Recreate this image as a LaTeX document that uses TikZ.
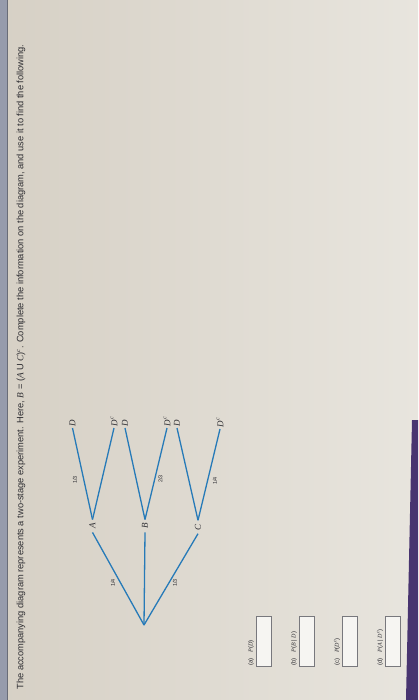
\documentclass[tikz,border=0pt]{standalone}
\usepackage{fontspec}
\setmainfont{Liberation Sans}
\newfontfamily\tms{Liberation Serif}
\usetikzlibrary{calc}
\definecolor{bgL}{RGB}{214,208,197}
\definecolor{bgR}{RGB}{232,229,222}
\definecolor{treeblue}{RGB}{38,122,184}
\definecolor{txt}{RGB}{45,45,50}
\definecolor{boxc}{RGB}{120,120,125}
\definecolor{barc}{RGB}{150,155,172}
\definecolor{purp}{RGB}{72,52,112}
\newcommand{\itl}[1]{{\tms\itshape #1}}
\begin{document}
\begin{tikzpicture}[x=1pt,y=-1pt,
  br/.style={line width=1.3pt, draw=treeblue},
  lbl/.style={inner xsep=0.5pt, inner ysep=1.5pt, text=txt, font=\fontsize{9}{9}\selectfont},
  mid/.style={inner xsep=0.5pt, inner ysep=3.5pt, text=txt, font=\fontsize{9}{9}\selectfont},
  frac/.style={inner sep=0pt, text=txt, font=\fontsize{5.5}{5.5}\selectfont},
  ans/.style={inner sep=0pt, text=txt, font=\fontsize{6}{6}\selectfont, anchor=south},
  abox/.style={draw=boxc, line width=0.5pt, fill=white!60!bgR, minimum width=15pt, minimum height=50pt, inner sep=0pt, anchor=south west}]
\useasboundingbox (0,0) rectangle (418,700);
\shade[left color=bgL, right color=bgR] (0,0) rectangle (418,700);
% window edge on the left
\fill[barc] (0,0) rectangle (7,700);
\draw[line width=1pt, color=barc!70!black] (7.5,0) -- (7.5,700);
% purple strip bottom right
\fill[purp] (412,420) -- (418,420) -- (418,700) -- (406,700) -- cycle;
% header
\node[inner sep=0pt, text=txt] (hdr) at (21,367) {\rotatebox{90}{\resizebox{645pt}{!}{The accompanying diagram represents a two-stage experiment. Here, \itl{B} = (\itl{A} U \itl{C})\textsuperscript{\itl{c}}. Complete the information on the diagram, and use it to find the following.}}};
% tree
\coordinate (root) at (144,625);
\node[mid] (A) at (92.5,526) {\rotatebox{90}{\itl{A}}};
\node[mid] (B) at (145,526) {\rotatebox{90}{\itl{B}}};
\node[mid] (C) at (198,527) {\rotatebox{90}{\itl{C}}};
\node[lbl, anchor=south] (AD) at (72.5,428) {\rotatebox{90}{\itl{D}}};
\node[lbl, anchor=south] (ADc) at (114,428) {\rotatebox{90}{\itl{D}\textsuperscript{\itl{c}}}};
\node[lbl, anchor=south] (BD) at (125,428) {\rotatebox{90}{\itl{D}}};
\node[lbl, anchor=south] (BDc) at (167,428) {\rotatebox{90}{\itl{D}\textsuperscript{\itl{c}}}};
\node[lbl, anchor=south] (CD) at (177,428) {\rotatebox{90}{\itl{D}}};
\node[lbl, anchor=south] (CDc) at (220,429) {\rotatebox{90}{\itl{D}\textsuperscript{\itl{c}}}};
\draw[br] (root) -- (A.south);
\draw[br] (root) -- (B.south);
\draw[br] (root) -- (C.south);
\draw[br] (A.north) -- (AD.south);
\draw[br] (A.north) -- (ADc.south);
\draw[br] (B.north) -- (BD.south);
\draw[br] (B.north) -- (BDc.south);
\draw[br] (C.north) -- (CD.south);
\draw[br] (C.north) -- (CDc.south);
% probabilities
\node[frac] (p1) at (113,583) {\rotatebox{90}{1/4}};
\node[frac] (p2) at (175,583) {\rotatebox{90}{1/3}};
\node[frac] (p3) at (75,480) {\rotatebox{90}{1/3}};
\node[frac] (p4) at (160.5,479) {\rotatebox{90}{2/3}};
\node[frac] (p5) at (215,481) {\rotatebox{90}{1/4}};
% answers
\node[ans] (la) at (251,666) {\rotatebox{90}{(a)\quad \itl{P}(\itl{D})}};
\node[abox] (ba) at (256,666) {};
\node[ans] (lb) at (294,666) {\rotatebox{90}{(b)\quad \itl{P}(\itl{B} | \itl{D})}};
\node[abox] (bb) at (299,666) {};
\node[ans] (lc) at (337,666) {\rotatebox{90}{(c)\quad \itl{P}(\itl{D}\textsuperscript{\itl{c}})}};
\node[abox] (bc) at (342,666) {};
\node[ans] (ld) at (380,666) {\rotatebox{90}{(d)\quad \itl{P}(\itl{A} | \itl{D}\textsuperscript{\itl{c}})}};
\node[abox] (bd) at (385,666) {};
\end{tikzpicture}
\end{document}
